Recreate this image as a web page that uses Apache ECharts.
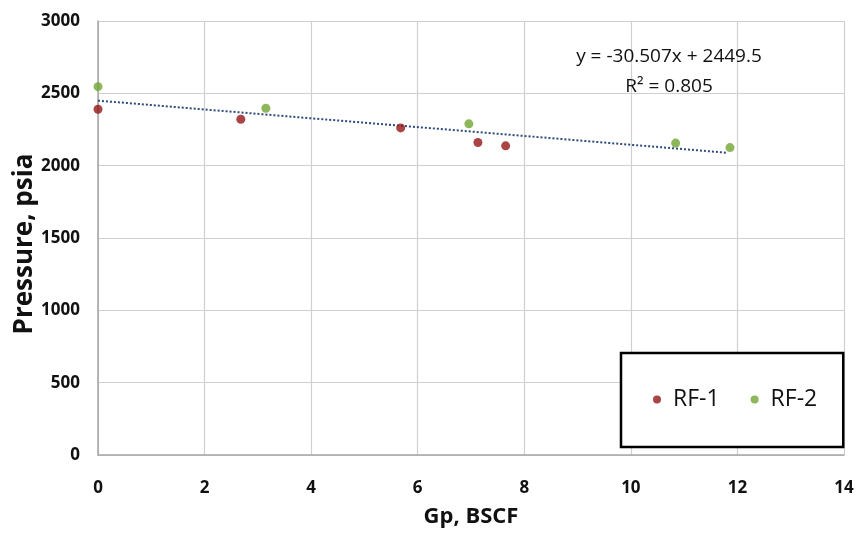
<!DOCTYPE html>
<html><head><meta charset="utf-8">
<script src="https://cdn.jsdelivr.net/npm/echarts@6/dist/echarts.min.js"></script>
<style>html,body{margin:0;padding:0;background:#fff}#c{width:859px;height:536px}</style>
</head><body><div id="c"></div>
<script>
const rf1X = [0, 2.68, 5.68, 7.13, 7.65];
const rf1P = [2390, 2321, 2261, 2160, 2137];
const rf2X = [0, 3.15, 6.96, 10.84, 11.86];
const rf2P = [2546, 2397, 2289, 2156, 2125];
const trendSlope = -30.507;
const trendIntercept = 2449.5;
const trendX = [0, 11.8];
const xTicks = [0, 2, 4, 6, 8, 10, 12, 14];
const yTicks = [0, 500, 1000, 1500, 2000, 2500, 3000];
const equationText = ['y = -30.507x + 2449.5', 'R² = 0.805'];

const zip = (a, b) => a.map((v, i) => [v, b[i]]);
const trendData = trendX.map(x => [x, trendSlope * x + trendIntercept]);
const font = '"Open Sans", sans-serif';

const chart = echarts.init(document.getElementById('c'));
chart.setOption({
  animation: false,
  grid: { left: 98, top: 21, right: 15, bottom: 81, containLabel: false, outerBoundsMode: 'none' },
  xAxis: {
    type: 'value', min: xTicks[0], max: xTicks[xTicks.length - 1], interval: 2,
    name: 'Gp, BSCF', nameLocation: 'middle', nameGap: 51, nameMoveOverlap: false,
    nameTextStyle: { fontFamily: font, fontWeight: 'bold', fontSize: 22, color: '#111' },
    axisLine: { show: true, lineStyle: { color: '#a6a6a6', width: 1.5 } },
    axisTick: { show: false },
    axisLabel: { margin: 25, fontFamily: font, fontWeight: 'bold', fontSize: 17, color: '#111',
      formatter: v => String(v) },
    splitLine: { show: true, lineStyle: { color: '#d0d0d0', width: 1.2 } }
  },
  yAxis: {
    type: 'value', min: yTicks[0], max: yTicks[yTicks.length - 1], interval: 500,
    name: 'Pressure, psia', nameLocation: 'middle', nameGap: 60, nameMoveOverlap: false,
    nameTextStyle: { fontFamily: font, fontWeight: 'bold', fontSize: 26, color: '#111',
      padding: [0, 12, 0, 0] },
    axisLine: { show: true, lineStyle: { color: '#a6a6a6', width: 1.5 } },
    axisTick: { show: false },
    axisLabel: { margin: 18, fontFamily: font, fontWeight: 'bold', fontSize: 17, color: '#111',
      formatter: v => String(v) },
    splitLine: { show: true, lineStyle: { color: '#d0d0d0', width: 1.2 } }
  },
  legend: {
    left: 621, top: 353, orient: 'horizontal',
    data: ['RF-1', 'RF-2'],
    icon: 'circle', itemWidth: 8, itemHeight: 8, itemGap: 31,
    textStyle: { fontFamily: font, fontSize: 23, color: '#111', padding: [0, 0, 0, 7] },
    borderColor: '#000', borderWidth: 2.5, backgroundColor: '#fff',
    padding: [35, 26, 36, 32]
  },
  graphic: [{
    type: 'text', x: 669, y: 72,
    style: { text: equationText.join('\n'), fontFamily: font, fontSize: 19,
      lineHeight: 30, fill: '#111', align: 'center', verticalAlign: 'middle' },
    z: 10
  }],
  series: [
    { name: 'Trend', type: 'line', data: trendData, showSymbol: false, symbol: 'none',
      lineStyle: { color: '#2e4a7d', width: 2, type: [2, 2] }, z: 1 },
    { name: 'RF-1', type: 'scatter', data: zip(rf1X, rf1P), symbolSize: 9,
      itemStyle: { color: '#951616' }, z: 3 },
    { name: 'RF-2', type: 'scatter', data: zip(rf2X, rf2P), symbolSize: 9,
      itemStyle: { color: '#72a532' }, z: 3 }
  ]
});
</script></body></html>
